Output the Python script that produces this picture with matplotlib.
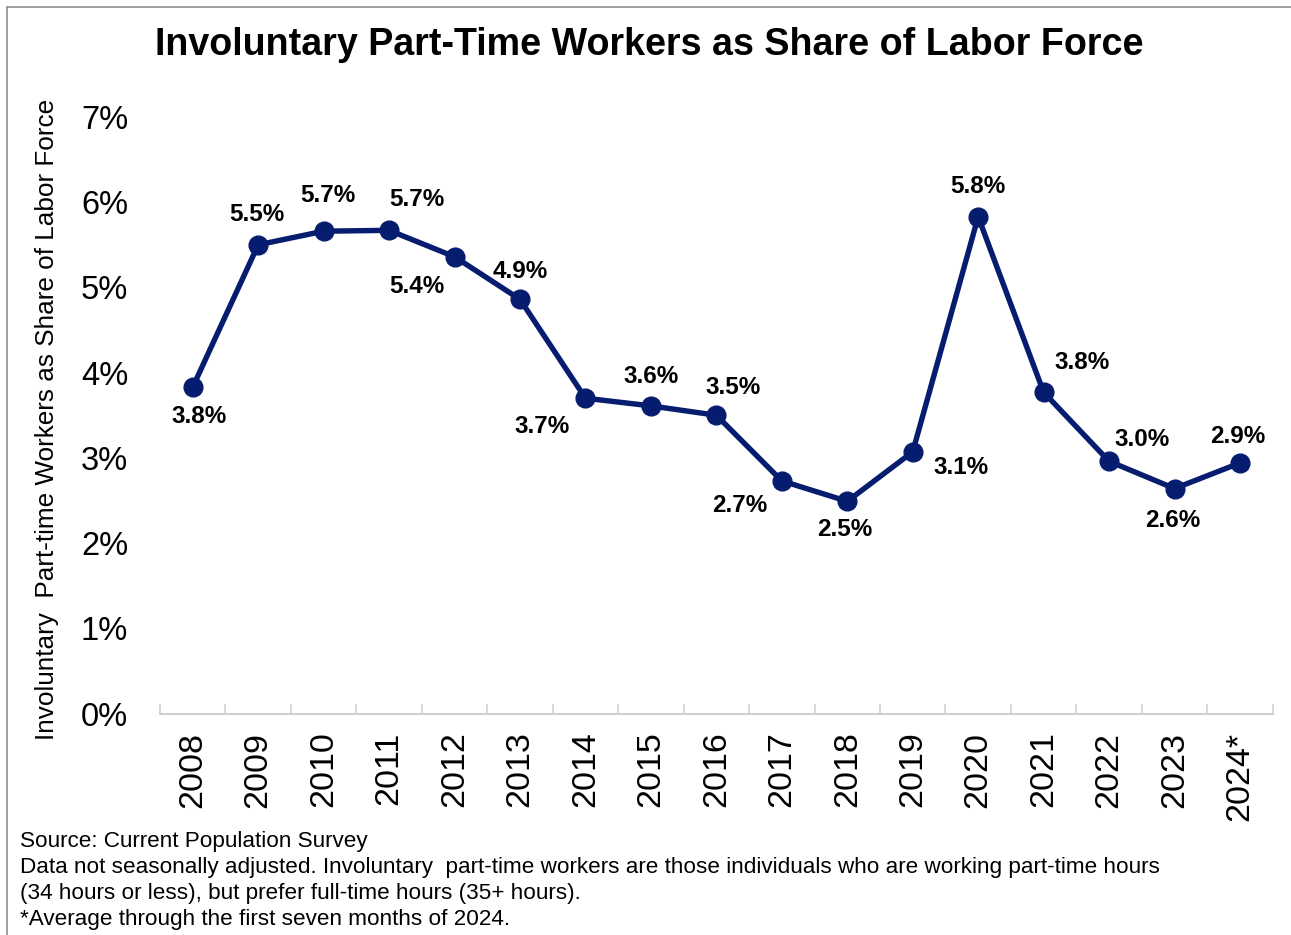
import matplotlib.pyplot as plt
from matplotlib.patches import Rectangle
from matplotlib.ticker import FixedLocator, PercentFormatter

plt.rcParams['font.family'] = ['Liberation Sans', 'DejaVu Sans']

# data
years = ["2008", "2009", "2010", "2011", "2012", "2013", "2014", "2015", "2016",
         "2017", "2018", "2019", "2020", "2021", "2022", "2023", "2024*"]
share = [3.83, 5.50, 5.66, 5.67, 5.36, 4.86, 3.70, 3.61, 3.50,
         2.73, 2.49, 3.07, 5.83, 3.77, 2.96, 2.64, 2.94]

# label offsets in points (placement only)
label_offsets = [(4.7, -21.5), (-0.7, 21.6), (3.4, 25.4), (19.7, 22), (-26.9, -21.2),
                 (0, 20.4), (-31.2, -20.4), (0, 21), (11.7, 20), (-30, -17.5),
                 (-1.5, -20.4), (34.7, -11), (-0.5, 21.6), (28, 21.4), (24, 16),
                 (-1, -23), (-1.4, 19)]

navy = "#061c6e"

fig = plt.figure(figsize=(12.91, 9.35), dpi=100)
ax = fig.add_axes([160/1291, 1 - 713.5/935, 1112.7/1291, (713.5 - 117)/935])

x = list(range(len(years)))
ax.plot(x, share, color=navy, lw=3.9, marker="o", markersize=13.5,
        solid_joinstyle="round", zorder=3)

for xi, v, off in zip(x, share, label_offsets):
    ax.annotate(f"{v:.1f}%", (xi, v), xytext=off, textcoords="offset points",
                ha="center", va="center", fontsize=17.5, fontweight="bold",
                color="black")

ax.set_xlim(-0.5, len(years) - 0.5)
ax.set_ylim(0, 7)
ax.set_yticks(range(0, 8))
ax.yaxis.set_major_formatter(PercentFormatter(decimals=0))
ax.set_xticks(x)
ax.set_xticklabels(years, rotation=90, va="top")
ax.xaxis.set_minor_locator(FixedLocator([i - 0.5 for i in range(len(years) + 1)]))

ax.tick_params(axis="y", length=0, labelsize=23.5, pad=23)
ax.tick_params(axis="x", which="major", length=0, labelsize=24.5, pad=13)
ax.tick_params(axis="x", which="minor", direction="in", length=7,
               width=1.2, color="#d0d0d0")

for s in ["top", "right", "left"]:
    ax.spines[s].set_visible(False)
ax.spines["bottom"].set_color("#d0d0d0")
ax.spines["bottom"].set_linewidth(1.5)

fig.text(47/1291, 1 - 419/935, "Involuntary  Part-time Workers as Share of Labor Force",
         rotation=90, ha="center", va="center", fontsize=18.8)

fig.text(649/1291, 1 - 45/935, "Involuntary Part-Time Workers as Share of Labor Force",
         ha="center", va="center", fontsize=27.1, fontweight="bold")

notes = ["Source: Current Population Survey",
         "Data not seasonally adjusted. Involuntary  part-time workers are those individuals who are working part-time hours",
         "(34 hours or less), but prefer full-time hours (35+ hours).",
         "*Average through the first seven months of 2024."]
for i, line in enumerate(notes):
    fig.text(20/1291, 1 - (841 + 26*i)/935, line, ha="left", va="center",
             fontsize=16.2)

# outer frame
fig.patches.append(Rectangle((7/1291, -0.1), 1.2, 1 - 7/935 + 0.1,
                             transform=fig.transFigure, fill=False,
                             edgecolor="#8c8c8c", lw=1.2))

fig.savefig("out.png", dpi=100)
